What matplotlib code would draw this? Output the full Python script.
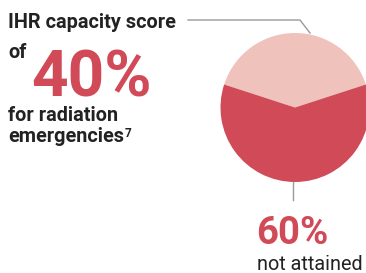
import matplotlib
matplotlib.use("Agg")
import matplotlib.pyplot as plt
from matplotlib.lines import Line2D

# data
labels = ["attained", "not attained"]
shares = [40, 60]
colors = ["#EFC2BC", "#D14A57"]
score_text = "40%"
not_text = "60%"

W, H = 366, 273
plt.rcParams['font.family'] = ['Roboto', 'DejaVu Sans']
fig = plt.figure(figsize=(W / 100, H / 100), dpi=100)


def px(x, y):
    # pixel coords (top-left origin) -> figure fraction
    return x / W, 1 - y / H


# pie
cx, cy, r = 295, 107.5, 74.5
ax = fig.add_axes([(cx - r) / W, (H - cy - r) / H, 2 * r / W, 2 * r / H])
ax.pie(shares, colors=colors, startangle=18, counterclock=True,
       wedgeprops=dict(linewidth=0))
ax.set_xlim(-1, 1)
ax.set_ylim(-1, 1)
ax.set_aspect('equal')
ax.axis('off')

# leader lines
gray = "#9a9a9a"
xs, ys = zip(px(188, 20), px(300, 20), px(310, 33))
fig.add_artist(Line2D(xs, ys, color=gray, lw=1, transform=fig.transFigure))
xs, ys = zip(px(292.5, 182), px(292.5, 200))
fig.add_artist(Line2D(xs, ys, color=gray, lw=1, transform=fig.transFigure))

dark = "#222222"
red = colors[1]
fs = 14.3
fig.text(*px(8, 28), "IHR capacity score", fontsize=fs, fontweight='bold',
         color=dark, va='baseline')
fig.text(*px(8, 58), "of", fontsize=fs, fontweight='bold', color=dark, va='baseline')
fig.text(*px(31, 96), score_text, fontsize=46, fontweight='bold', color=red,
         va='baseline')
fig.text(*px(8, 121), "for radiation", fontsize=fs, fontweight='bold',
         color=dark, va='baseline')
em = fig.text(*px(8, 142), "emergencies", fontsize=fs, fontweight='bold',
              color=dark, va='baseline')
fig.canvas.draw()
bb = em.get_window_extent()
fig.text((bb.x1 + 1) / W, 1 - 137 / H, "7", fontsize=8.5, fontweight='bold',
         color=dark, va='baseline')
fig.text(*px(256, 244), not_text, fontsize=27.5, fontweight='bold', color=red,
         va='baseline')
fig.text(*px(257, 270), "not attained", fontsize=14.3, color=dark, va='baseline')

fig.savefig("out.png", dpi=100)
